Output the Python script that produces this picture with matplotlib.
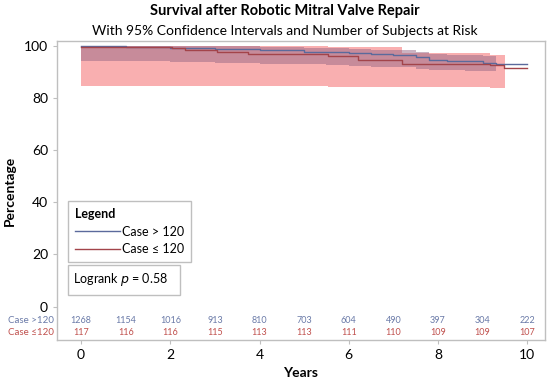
import numpy as np
import matplotlib
matplotlib.use("Agg")
import matplotlib.pyplot as plt
from matplotlib.lines import Line2D
from matplotlib.patches import Rectangle

plt.rcParams['font.family'] = ['Lato', 'DejaVu Sans']

# Case > 120 (blue) survival curve and 95% CI
blue_t = [0, 1, 2, 3, 4, 5, 5.5, 6, 6.5, 7, 7.5, 7.8, 8.2, 8.6, 9, 9.3, 10]
blue_s = [99.8, 99.6, 99.3, 98.8, 98.3, 97.8, 97.5, 97.2, 96.8, 96.4, 95.6, 94.6,
          94.3, 94.0, 93.5, 93.0, 92.9]
blue_ci_t = [0, 1, 2, 3, 4, 5, 5.5, 6, 6.5, 7, 7.5, 7.8, 8.2, 8.6, 9, 9.3]
blue_lo = [94.0, 94.0, 93.8, 93.5, 93.2, 92.9, 92.6, 92.3, 92.0, 91.7, 91.2, 90.8,
           90.6, 90.5, 90.4, 90.4]
blue_hi = [100, 100, 100, 99.8, 99.5, 99.2, 99.0, 98.8, 98.5, 98.2, 97.6, 96.8,
           96.5, 96.3, 96.0, 96.0]

# Case <= 120 (red) survival curve and 95% CI
red_t = [0, 2.03, 2.33, 3.04, 3.75, 5.54, 6.2, 7.19, 9.17, 9.47, 10.0]
red_s = [99.6, 99.0, 98.5, 97.8, 96.9, 95.9, 94.6, 93.1, 92.7, 91.5, 91.5]
red_ci_t = [0, 2.03, 3.04, 5.54, 7.19, 9.17, 9.5]
red_lo = [84.6, 84.5, 84.4, 84.3, 84.2, 84.0, 84.0]
red_hi = [100, 100, 100, 99.6, 97.2, 96.3, 96.3]

# numbers at risk
risk_years = list(range(0, 11))
risk_blue = [1268, 1154, 1016, 913, 810, 703, 604, 490, 397, 304, 222]
risk_red = [117, 116, 116, 115, 113, 113, 111, 110, 109, 109, 107]

BLUE = '#5b6a9c'
RED = '#a3444a'
PINK = '#f9afb0'
MAUVE = '#976986'
GRAY = '#bfbfbf'

fig = plt.figure(figsize=(5.5, 3.84), dpi=100)
ax = fig.add_axes([0.1036, 0.1146, 0.8873, 0.7784])

ax.fill_between(red_ci_t, red_lo, red_hi, step='post', color=PINK, lw=0)
ax.fill_between(blue_ci_t, blue_lo, blue_hi, step='post', color=MAUVE, alpha=0.5, lw=0)
ax.step(blue_t, blue_s, where='post', color=BLUE, lw=1.0)
ax.step(red_t, red_s, where='post', color=RED, lw=1.0)

ax.set_xlim(-0.54, 10.40)
ax.set_ylim(-12.8, 101.8)
ax.set_xticks(range(0, 11, 2))
ax.set_yticks(range(0, 101, 20))
ax.tick_params(colors=GRAY, labelcolor='black', labelsize=10, length=3, width=0.8)
for sp in ax.spines.values():
    sp.set_color(GRAY)
    sp.set_linewidth(1.0)

ax.set_xlabel('Years', fontsize=10, fontweight='bold', labelpad=4)
ax.set_ylabel('Percentage', fontsize=10, fontweight='bold', labelpad=6)

fig.text(0.518, 0.972, 'Survival after Robotic Mitral Valve Repair', ha='center', va='center',
         fontsize=10.5, fontweight='bold')
fig.text(0.518, 0.92, 'With 95% Confidence Intervals and Number of Subjects at Risk',
         ha='center', va='center', fontsize=10)

# number at risk rows
for x, nb, nr in zip(risk_years, risk_blue, risk_red):
    ax.text(x, -5.4, str(nb), ha='center', va='center', fontsize=6.5, color='#6a7aa8')
    ax.text(x, -10.0, str(nr), ha='center', va='center', fontsize=6.5, color='#c0504d')
ax.text(-0.62, -5.4, 'Case >120', ha='right', va='center', fontsize=7, color='#6a7aa8')
ax.text(-0.62, -10.0, 'Case \u2264120', ha='right', va='center', fontsize=7, color='#c0504d')

# legend box
handles = [Line2D([], [], color=BLUE, lw=1.0), Line2D([], [], color=RED, lw=1.0)]
leg = ax.legend(handles, ['Case > 120', 'Case \u2264 120'], title='Legend',
                loc='upper left', bbox_to_anchor=(0.0225, 0.465), alignment='left',
                fancybox=False, edgecolor=GRAY, fontsize=9, handlelength=3.6,
                handletextpad=0.15, borderpad=0.55, labelspacing=0.45, framealpha=1,
                borderaxespad=0)
leg.get_title().set_fontweight('bold')
leg.get_title().set_fontsize(9)
leg.get_frame().set_linewidth(1.0)

# logrank box
ax.add_patch(Rectangle((0.0225, 0.152), 0.229, 0.098, transform=ax.transAxes,
                       fill=False, edgecolor=GRAY, lw=1.0))
ax.text(0.032, 0.201, 'Logrank $\\it{p}$ = 0.58', transform=ax.transAxes,
        ha='left', va='center', fontsize=9)

fig.savefig('out.png', dpi=100)
